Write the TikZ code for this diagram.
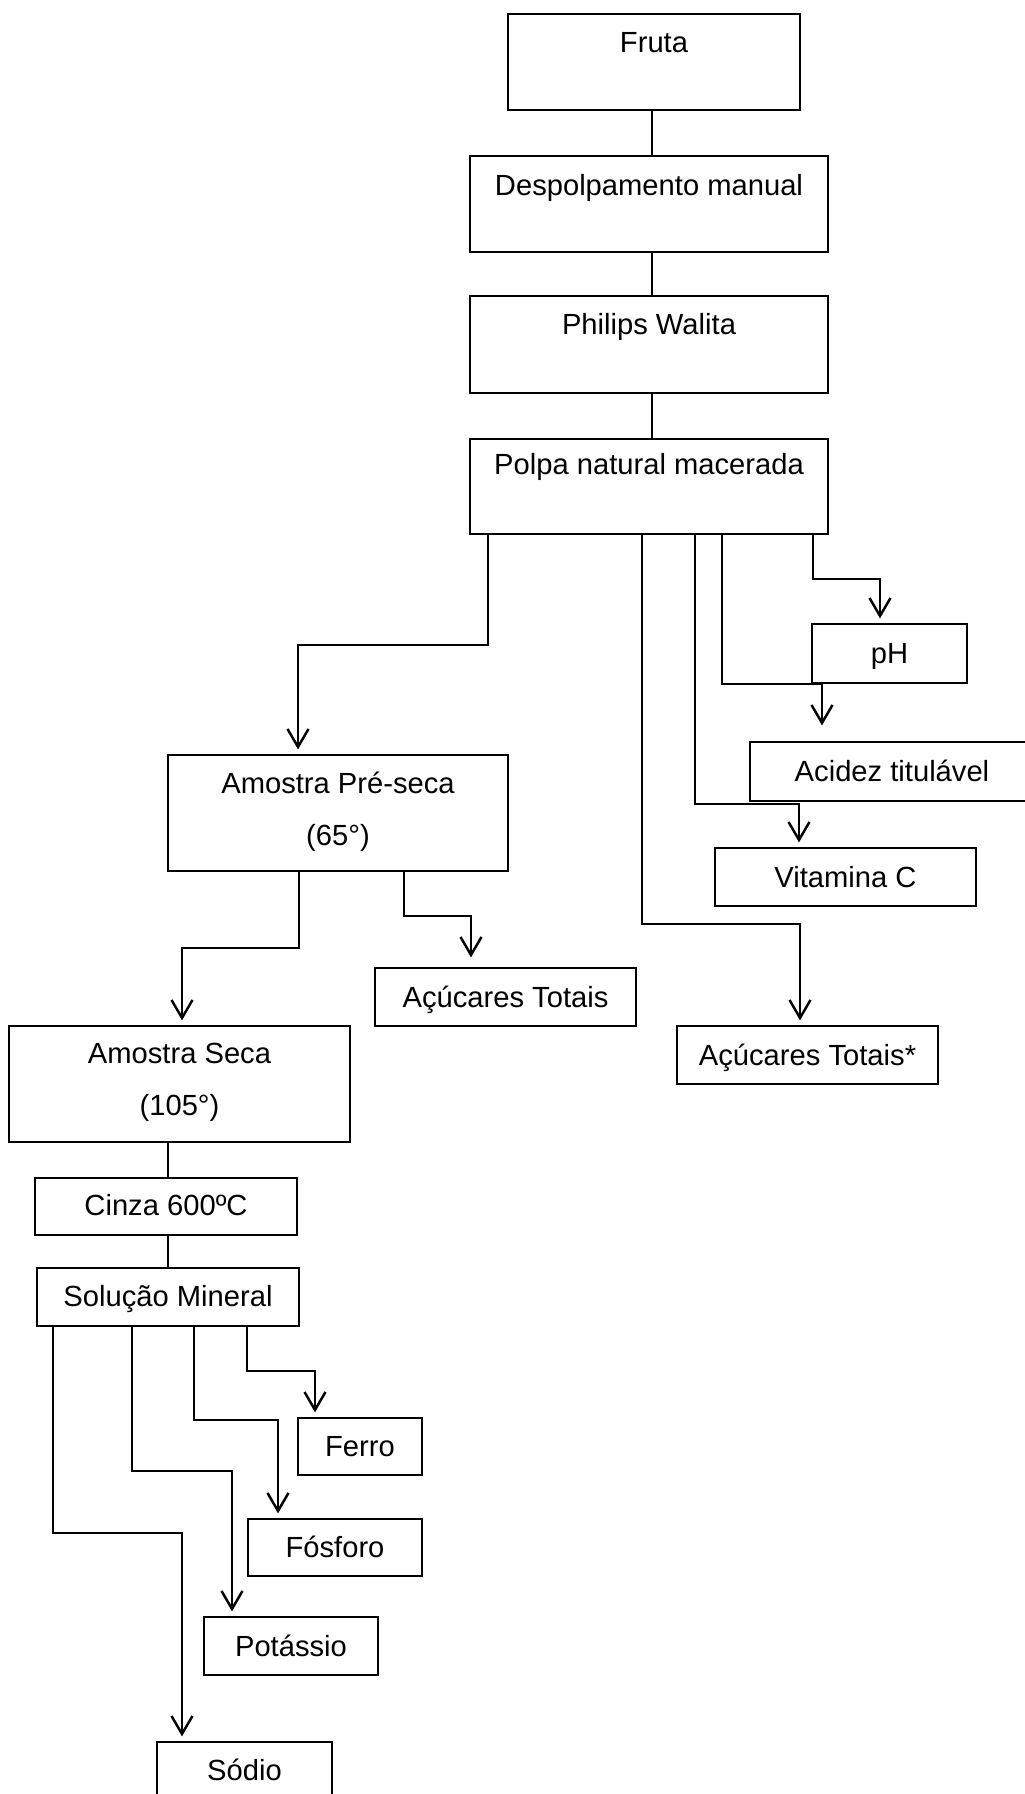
\documentclass[tikz,border=0pt]{standalone}
\usepackage{fontspec}
\setmainfont{Liberation Sans}
\usetikzlibrary{arrows.meta}
\newdimen\px \px=0.02cm

\begin{document}
\begin{tikzpicture}[x=0.02cm,y=-0.02cm,
  font=\fontsize{16.6pt}{29.6pt}\selectfont,
  box/.style n args={3}{draw,line width=0.7pt,inner sep=0pt,anchor=base,
    minimum width=#1\px,text height=#2\px,text depth=#3\px},
  link/.style={line width=1pt},
  arr/.style={line width=1.4pt,-{Straight Barb[length=0.36cm,width=0.42cm]},shorten >=0.1cm}]
  \useasboundingbox (0,0) rectangle (1024,1794);

  \node[box={292}{39}{57}] (fruta) at (654,53) {Fruta};
  \node[box={358}{40}{56}] (despolp) at (649,196) {Despolpamento manual};
  \node[box={358}{39}{58}] (philips) at (649,335) {Philips Walita};
  \node[box={358}{35}{60}] (polpa) at (649,474) {Polpa natural macerada};

  \node[box={155}{39}{20}] (ph) at (889.5,663) {pH};
  \node[box={284}{39}{20}] (acidez) at (892,781) {Acidez titulável};
  \node[box={261}{39}{19}] (vitc) at (845.5,887) {Vitamina C};
  \node[box={261}{39}{19}] (acucpolpa) at (807.5,1065) {Açúcares Totais*};

  \node[box={340}{38}{78}] (preseca) at (338,793)
    {\begin{tabular}[t]{@{}c@{}}Amostra Pré-seca\\(65°)\end{tabular}};
  \node[box={261}{39}{19}] (acucpre) at (505.5,1007) {Açúcares Totais};
  \node[box={341}{37}{79}] (seca) at (179.5,1063)
    {\begin{tabular}[t]{@{}c@{}}Amostra Seca\\(105°)\end{tabular}};
  \node[box={262}{37}{20}] (cinza) at (166,1215) {Cinza 600ºC};
  \node[box={262}{38}{20}] (solucao) at (168,1306) {Solução Mineral};

  \node[box={124}{38}{19}] (ferro) at (360,1456) {Ferro};
  \node[box={174}{38}{19}] (fosforo) at (335,1557) {Fósforo};
  \node[box={174}{39}{19}] (potassio) at (291,1656) {Potássio};
  \node[box={175}{38}{40}] (sodio) at (244.5,1780) {Sódio};

  \draw[link] (fruta.south -| 652,0) -- (despolp.north -| 652,0);
  \draw[link] (despolp.south -| 652,0) -- (philips.north -| 652,0);
  \draw[link] (philips.south -| 652,0) -- (polpa.north -| 652,0);
  \draw[link] (seca.south -| 168,0) -- (cinza.north -| 168,0);
  \draw[link] (cinza.south -| 168,0) -- (solucao.north -| 168,0);

  \draw[arr] (polpa.south -| 488,0) -- (488,645) -| (preseca.north -| 298,0);
  \draw[arr] (polpa.south -| 813,0) -- (813,579) -| (ph.north -| 880,0);
  \draw[arr,shorten >=0.32cm] (polpa.south -| 722,0) -- (722,684) -| (acidez.north -| 822,0);
  \draw[arr] (polpa.south -| 695,0) -- (695,804) -| (vitc.north -| 799,0);
  \draw[arr] (polpa.south -| 642,0) -- (642,924) -| (acucpolpa.north -| 800,0);
  \draw[arr,shorten >=0.2cm] (preseca.south -| 404,0) -- (404,916) -| (acucpre.north -| 471,0);
  \draw[arr] (preseca.south -| 299,0) -- (299,948) -| (seca.north -| 182,0);
  \draw[arr] (solucao.south -| 247,0) -- (247,1371) -| (ferro.north -| 315,0);
  \draw[arr] (solucao.south -| 194,0) -- (194,1420) -| (fosforo.north -| 278,0);
  \draw[arr] (solucao.south -| 132,0) -- (132,1471) -| (potassio.north -| 232,0);
  \draw[arr] (solucao.south -| 53,0) -- (53,1533) -| (sodio.north -| 182,0);
\end{tikzpicture}
\end{document}
